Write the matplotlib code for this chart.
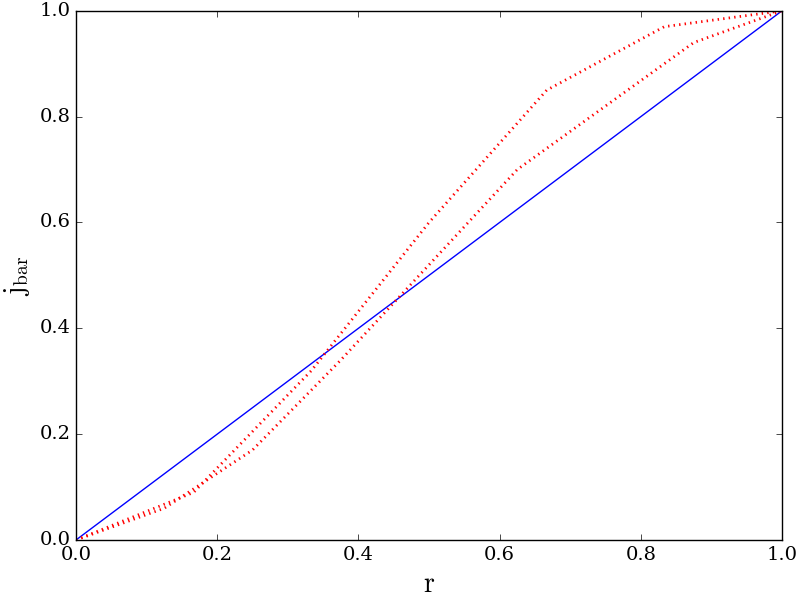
import matplotlib
matplotlib.use('Agg')
import matplotlib.pyplot as plt

# diagonal reference
r_diag = [0.0, 1.0]
j_diag = [0.0, 1.0]

# first profile (sixths)
r_a = [0.0, 1/6, 1/3, 0.5, 2/3, 5/6, 1.0]
j_a = [0.0, 0.09, 0.32, 0.60, 0.85, 0.97, 1.0]

# second profile (eighths)
r_b = [0.0, 0.125, 0.25, 0.375, 0.5, 0.625, 0.75, 0.875, 1.0]
j_b = [0.0, 0.06, 0.17, 0.34, 0.52, 0.70, 0.82, 0.94, 1.0]

plt.style.use('classic')
plt.rcParams['font.family'] = 'serif'
plt.rcParams['font.serif'] = ['DejaVu Serif']
plt.rcParams['font.size'] = 14
plt.rcParams['mathtext.fontset'] = 'cm'

fig = plt.figure(figsize=(8, 6), dpi=100)
ax = fig.add_subplot(111)
fig.subplots_adjust(left=0.095, right=0.9775, top=0.982, bottom=0.1)

ax.plot(r_diag, j_diag, 'b-')
ax.plot(r_a, j_a, 'r:', linewidth=2)
ax.plot(r_b, j_b, 'r:', linewidth=2)

ax.set_xlim(0, 1)
ax.set_ylim(0, 1)
ax.set_xlabel(r'$\mathrm{r}$', fontsize=20)
ax.set_ylabel(r'$\mathrm{j_{bar}}$', fontsize=20)

fig.savefig('out.png', dpi=100)
